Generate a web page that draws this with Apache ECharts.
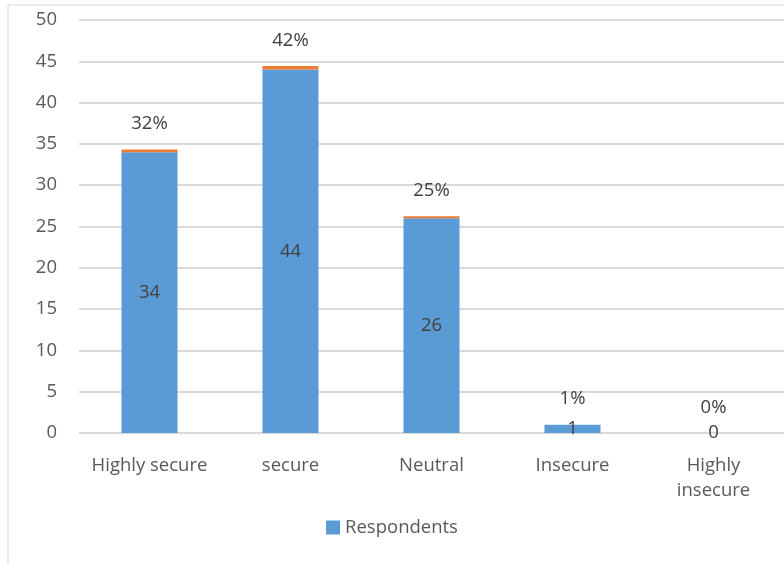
<!DOCTYPE html>
<html>
<head>
<meta charset="utf-8">
<script src="https://cdn.jsdelivr.net/npm/echarts@6/dist/echarts.min.js"></script>
<style>
  html, body { margin: 0; padding: 0; background: #fff; }
  #chart { width: 784px; height: 565px; }
</style>
</head>
<body>
<div id="chart"></div>
<script>
// Survey answers: how secure respondents feel
const categories = ['Highly secure', 'secure', 'Neutral', 'Insecure', 'Highly\ninsecure'];
const respondents = [34, 44, 26, 1, 0];
const shares = [0.32, 0.42, 0.25, 0.01, 0.00];
const yTicks = { min: 0, max: 50, interval: 5 };

const textColor = '#595959';
const fontFamily = '"Open Sans", "Liberation Sans", sans-serif';
const fontSize = 18.5;

const chart = echarts.init(document.getElementById('chart'));
chart.setOption({
  animation: false,
  textStyle: { fontFamily: fontFamily },
  graphic: [{
    type: 'rect',
    shape: { x: 8, y: 5, width: 800, height: 600 },
    style: { fill: 'none', stroke: '#d9d9d9', lineWidth: 1 },
    silent: true
  }],
  grid: { left: 79, right: 0, top: 20, bottom: 132 },
  legend: {
    data: ['Respondents'],
    bottom: 23,
    left: 'center',
    itemWidth: 14,
    itemHeight: 14,
    icon: 'rect',
    itemGap: 6,
    textStyle: { color: textColor, fontSize: fontSize, fontFamily: fontFamily }
  },
  xAxis: {
    type: 'category',
    data: categories,
    axisLine: { show: false },
    axisTick: { show: false },
    axisLabel: { color: textColor, fontSize: fontSize, margin: 20, lineHeight: 25, interval: 0 }
  },
  yAxis: {
    type: 'value',
    min: yTicks.min,
    max: yTicks.max,
    interval: yTicks.interval,
    axisLine: { show: false },
    axisTick: { show: false },
    axisLabel: { color: textColor, fontSize: fontSize, margin: 22 },
    splitLine: { lineStyle: { color: '#d9d9d9', width: 2 } }
  },
  series: [
    {
      name: 'Respondents',
      type: 'bar',
      stack: 'total',
      data: respondents,
      barWidth: 56,
      itemStyle: { color: '#5b9bd5' },
      label: {
        show: true,
        position: 'inside',
        color: '#404040',
        fontSize: fontSize,
        formatter: p => String(p.value)
      }
    },
    {
      name: 'Share',
      type: 'bar',
      stack: 'total',
      data: shares,
      barWidth: 56,
      itemStyle: { color: '#ed7d31' },
      label: {
        show: true,
        position: 'top',
        distance: 16,
        color: '#404040',
        fontSize: fontSize,
        formatter: p => Math.round(p.value * 100) + '%'
      }
    }
  ]
});
</script>
</body>
</html>
